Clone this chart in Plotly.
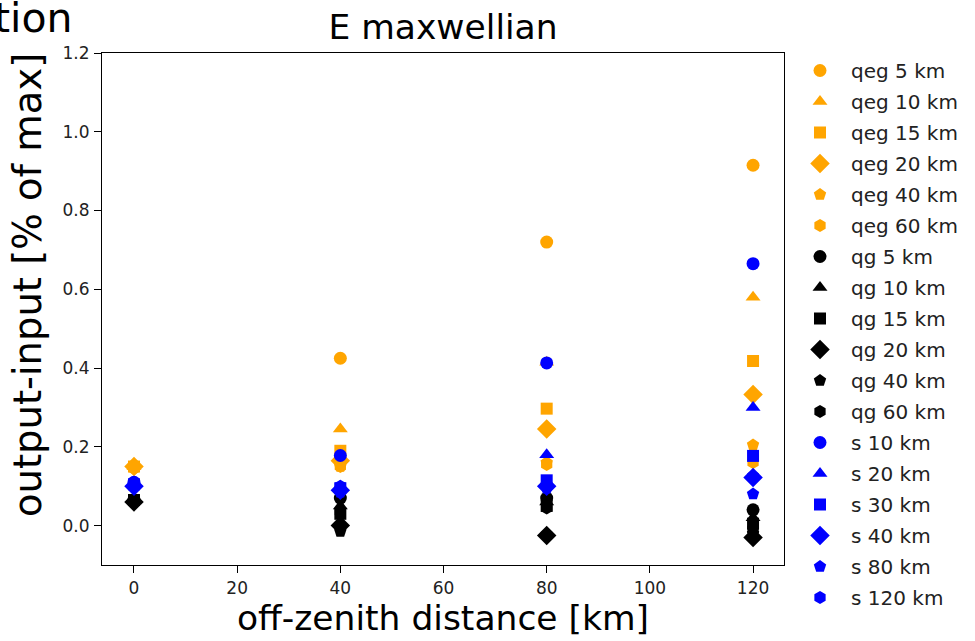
import plotly.graph_objects as go

x_km = [0, 40, 80, 120]

qeg_5 = [0.15, 0.425, 0.72, 0.915]
qeg_10 = [0.15, 0.245, 0.415, 0.58]
qeg_15 = [0.15, 0.19, 0.297, 0.418]
qeg_20 = [0.15, 0.165, 0.245, 0.333]
qeg_40 = [0.15, 0.15, 0.16, 0.205]
qeg_60 = [0.145, 0.15, 0.155, 0.16]

qg_5 = [0.065, 0.07, 0.07, 0.04]
qg_10 = [0.065, 0.05, 0.06, 0.02]
qg_15 = [0.065, 0.03, 0.05, 0.005]
qg_20 = [0.06, 0.0, -0.025, -0.03]
qg_40 = [0.06, -0.015, -0.022, -0.02]
qg_60 = [0.065, 0.035, 0.045, -0.01]

s_10 = [0.11, 0.178, 0.413, 0.665]
s_20 = [0.11, 0.1, 0.18, 0.30]
s_30 = [0.105, 0.095, 0.115, 0.177]
s_40 = [0.1, 0.09, 0.1, 0.122]
s_80 = [0.1, 0.085, 0.095, 0.08]
s_120 = [0.11, 0.1, 0.1, 0.125]

series = [
    ("qeg 5 km", qeg_5, "orange", "circle"),
    ("qeg 10 km", qeg_10, "orange", "triangle-up"),
    ("qeg 15 km", qeg_15, "orange", "square"),
    ("qeg 20 km", qeg_20, "orange", "diamond"),
    ("qeg 40 km", qeg_40, "orange", "pentagon"),
    ("qeg 60 km", qeg_60, "orange", "hexagon"),
    ("qg 5 km", qg_5, "black", "circle"),
    ("qg 10 km", qg_10, "black", "triangle-up"),
    ("qg 15 km", qg_15, "black", "square"),
    ("qg 20 km", qg_20, "black", "diamond"),
    ("qg 40 km", qg_40, "black", "pentagon"),
    ("qg 60 km", qg_60, "black", "hexagon"),
    ("s 10 km", s_10, "blue", "circle"),
    ("s 20 km", s_20, "blue", "triangle-up"),
    ("s 30 km", s_30, "blue", "square"),
    ("s 40 km", s_40, "blue", "diamond"),
    ("s 80 km", s_80, "blue", "pentagon"),
    ("s 120 km", s_120, "blue", "hexagon"),
]

sizes = {"circle": 13, "triangle-up": 13, "square": 12, "diamond": 15,
         "pentagon": 13, "hexagon": 13}

fig = go.Figure()
for i, (name, vals, col, sym) in enumerate(series):
    fig.add_trace(go.Scatter(
        x=x_km, y=vals, mode="markers", name=name,
        legendgroup="g%d" % i,
        marker=dict(color=col, symbol=sym, size=sizes[sym], line=dict(width=0)),
    ))

axis_common = dict(
    showgrid=False, zeroline=False, showline=True, linecolor="black",
    linewidth=1, mirror=True, ticks="outside", ticklen=7, tickcolor="black",
    tickfont=dict(size=17, color="#222", family="DejaVu Sans"),
    ticklabelstandoff=1,
)

L, R, T, B = 102, 784, 53, 565
PW, PH = R - L, B - T

fig.update_layout(
    width=975, height=641,
    margin=dict(l=L, r=975 - R, t=T, b=641 - B),
    paper_bgcolor="white", plot_bgcolor="white",
    font=dict(family="DejaVu Sans", color="black"),
    title=dict(text="E maxwellian", x=(L + R) / 2 / 975, xanchor="center",
               y=1 - 27 / 641, yanchor="middle",
               font=dict(size=34.5, color="black")),
    xaxis=dict(range=[-6.2, 126], tickvals=[0, 20, 40, 60, 80, 100, 120],
               title=dict(text="off-zenith distance [km]",
                          font=dict(size=34.5, color="black"), standoff=5),
               **axis_common),
    yaxis=dict(range=[-0.1, 1.2], tickvals=[0.0, 0.2, 0.4, 0.6, 0.8, 1.0, 1.2],
               tickformat=".1f", **axis_common),
    legend=dict(x=(789 - L) / PW, xanchor="left", y=1 + 2 / PH, yanchor="top",
                font=dict(size=20, color="#222"), tracegroupgap=2,
                itemwidth=52, bgcolor="rgba(0,0,0,0)", maxheight=700),
    showlegend=True,
    annotations=[
        dict(text="tion", xref="paper", yref="paper",
             x=-L / PW, xanchor="left", y=1 + T / PH, yanchor="top",
             showarrow=False, font=dict(size=41, color="black"),
             xshift=-8, yshift=8),
        dict(text="output-input [% of max]", xref="paper", yref="paper",
             x=(27 - L) / PW, xanchor="center", y=(B - 285) / PH, yanchor="middle",
             textangle=-90, showarrow=False,
             font=dict(size=38.5, color="black")),
    ],
)

fig.write_html("out.html")
